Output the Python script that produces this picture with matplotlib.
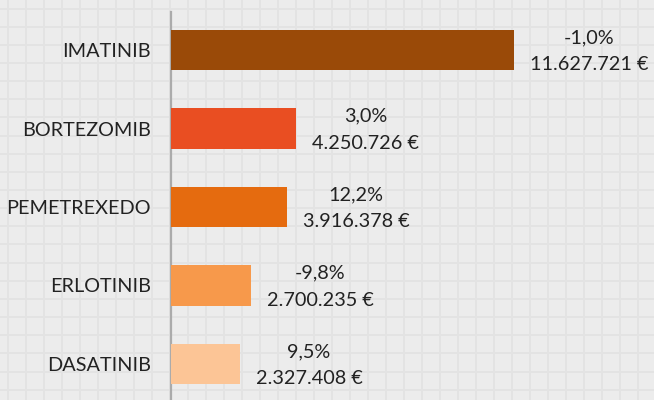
import matplotlib
matplotlib.use("Agg")
import matplotlib.pyplot as plt
import numpy as np

categories = ["IMATINIB", "BORTEZOMIB", "PEMETREXEDO", "ERLOTINIB", "DASATINIB"]
values = [11627721, 4250726, 3916378, 2700235, 2327408]
changes = ["-1,0%", "3,0%", "12,2%", "-9,8%", "9,5%"]
value_labels = ["11.627.721 €", "4.250.726 €", "3.916.378 €", "2.700.235 €", "2.327.408 €"]
colors = ["#9a4a08", "#e94e22", "#e56b0f", "#f7994b", "#fcc596"]

plt.rcParams['font.family'] = ['Lato', 'DejaVu Sans']

W, H = 654, 400
fig = plt.figure(figsize=(W / 100, H / 100), dpi=100)
fig.patch.set_facecolor("#ececec")

# background grid pattern
bg = fig.add_axes([0, 0, 1, 1])
bg.set_xlim(0, W)
bg.set_ylim(H, 0)
bg.axis("off")
for gx in np.arange(7.5, W, 18):
    bg.axvline(gx, color="#e3e3e3", lw=1.4, zorder=0)
for gy in np.arange(8.5, H, 18.15):
    bg.axhline(gy, color="#e3e3e3", lw=1.4, zorder=0)

left_px, top_px = 171, 12
ax = fig.add_axes([left_px / W, 0, (W - left_px) / W, (H - top_px) / H])
ax.patch.set_alpha(0)

px_per_unit = 343 / 11627721
ax.set_xlim(0, (W - left_px) / px_per_unit)
pitch = 78.5
ax.set_ylim((H - 50) / pitch, (top_px - 50) / pitch)

y = np.arange(len(categories))
ax.barh(y, values, height=0.51, color=colors, zorder=3)

offset_units = 16 / px_per_unit
for i, (v, c, l) in enumerate(zip(values, changes, value_labels)):
    ax.text(v + offset_units, i + 0.015, f"{c}\n{l}", ha="left", va="center",
            multialignment="center", fontsize=14.3, color="#222222",
            linespacing=1.7, zorder=4)

ax.set_yticks(y)
ax.set_yticklabels(categories, fontsize=14.3, color="#222222")
ax.tick_params(axis="y", length=0, pad=14.4)
ax.set_xticks([])
for s in ["top", "right", "bottom"]:
    ax.spines[s].set_visible(False)
ax.spines["left"].set_color("#ababab")
ax.spines["left"].set_linewidth(1.6)

fig.savefig("out.png", dpi=100, facecolor=fig.get_facecolor())
